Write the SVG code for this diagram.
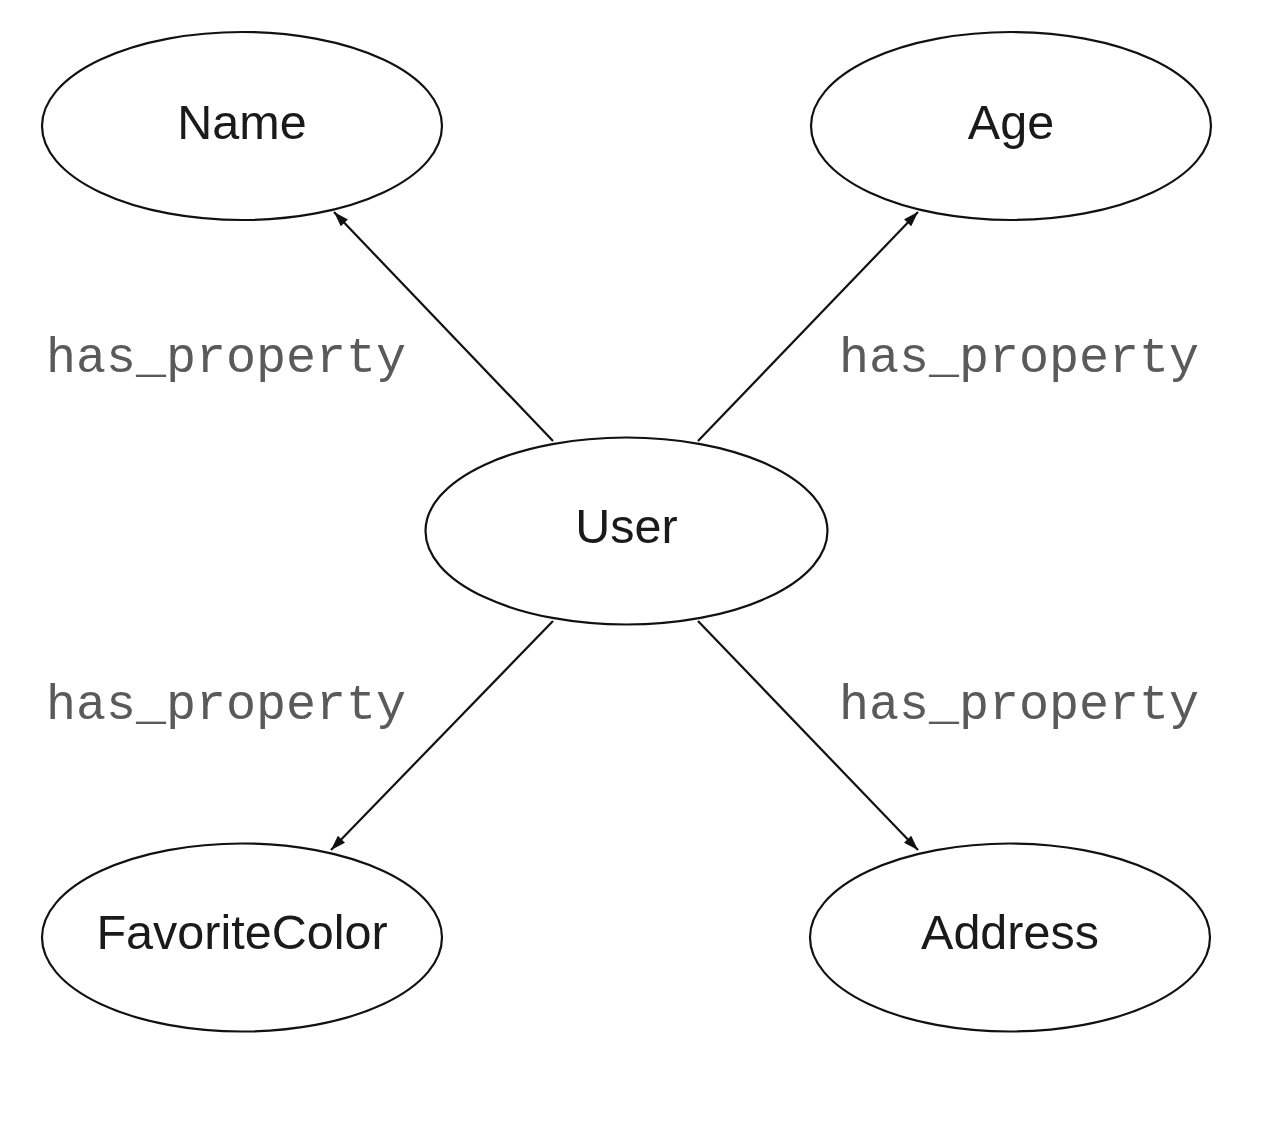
<svg xmlns="http://www.w3.org/2000/svg" width="1280" height="1123" viewBox="0 0 1280 1123">
<style>
.node ellipse{fill:#fff;stroke:#111;stroke-width:2.2}
.node text{font-family:"Liberation Sans",Arial,sans-serif;font-size:48.5px;fill:#1a1a1a;text-anchor:middle}
.edge{stroke:#111;stroke-width:2.2;fill:none;marker-end:url(#arr)}
.lbl{font-family:"Liberation Mono","Courier New",monospace;font-size:50px;fill:#5a5a5a}
</style>
<defs>
<marker id="arr" viewBox="0 0 15 10" refX="15" refY="5" markerWidth="15" markerHeight="10" markerUnits="userSpaceOnUse" orient="auto">
<path d="M0,0 L15,5 L0,10 Z" fill="#111"/>
</marker>
</defs>
<rect width="1280" height="1123" fill="#fff"/>
<g id="connectors">
<line class="edge" x1="553" y1="441" x2="334" y2="212"/>
<line class="edge" x1="698" y1="441" x2="918" y2="212"/>
<line class="edge" x1="553" y1="621" x2="331" y2="850"/>
<line class="edge" x1="698" y1="621" x2="918" y2="850"/>
<text class="lbl" x="46" y="372">has_property</text>
<text class="lbl" x="839" y="372">has_property</text>
<text class="lbl" x="46" y="719">has_property</text>
<text class="lbl" x="839" y="719">has_property</text>
</g>
<g id="node-name" class="node">
<ellipse cx="242" cy="126" rx="200" ry="94"/>
<text x="242" y="139">Name</text>
</g>
<g id="node-age" class="node">
<ellipse cx="1011" cy="126" rx="200" ry="94"/>
<text x="1011" y="139">Age</text>
</g>
<g id="node-user" class="node">
<ellipse cx="626.5" cy="531" rx="201" ry="93.5"/>
<text x="626.5" y="543">User</text>
</g>
<g id="node-favoritecolor" class="node">
<ellipse cx="242" cy="937.5" rx="200" ry="94"/>
<text x="242" y="949">FavoriteColor</text>
</g>
<g id="node-address" class="node">
<ellipse cx="1010" cy="937.5" rx="200" ry="94"/>
<text x="1010" y="949">Address</text>
</g>
</svg>
